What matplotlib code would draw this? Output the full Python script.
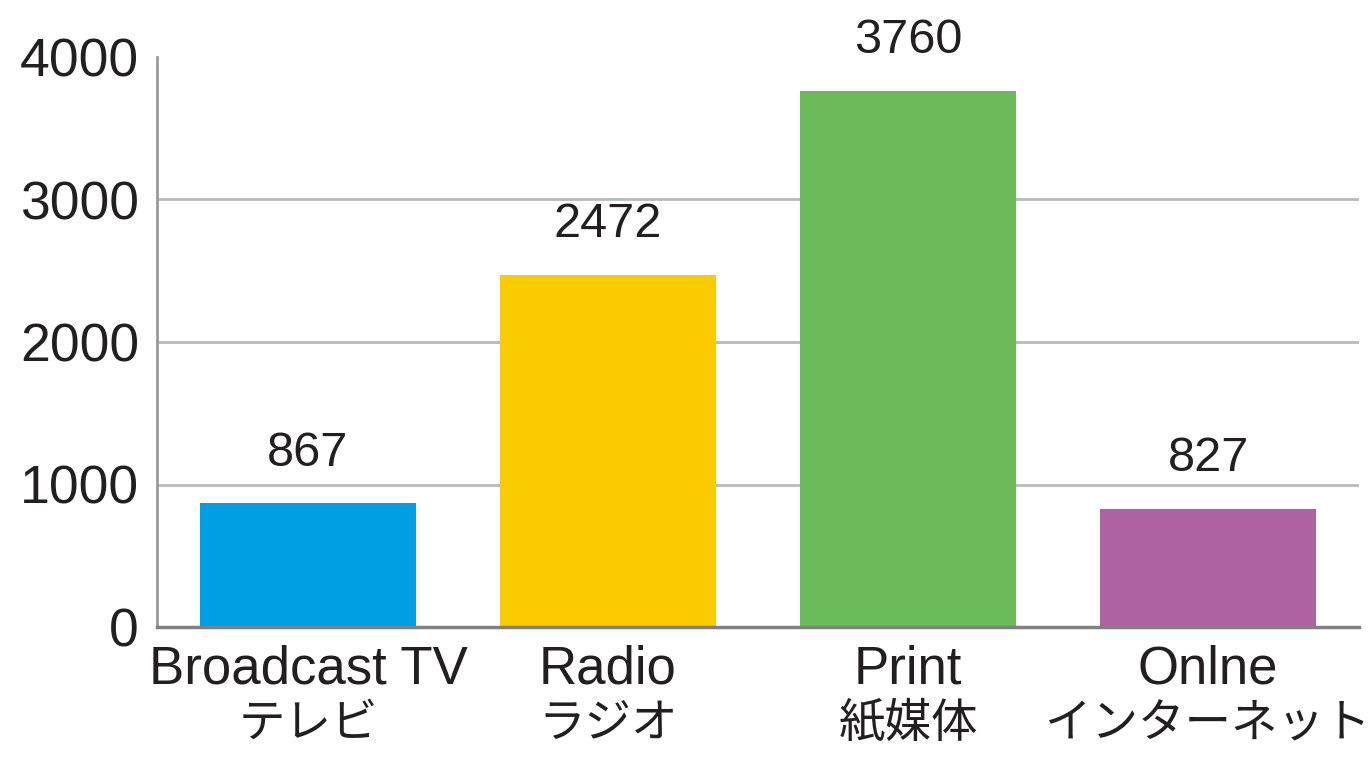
import matplotlib
matplotlib.use("Agg")
import matplotlib.pyplot as plt
from matplotlib.transforms import blended_transform_factory

categories_en = ["Broadcast TV", "Radio", "Print", "Onlne"]
categories_ja = ["テレビ", "ラジオ", "紙媒体", "インターネット"]
values = [867, 2472, 3760, 827]
colors = ["#009fe3", "#f9cb00", "#6cbb5a", "#ad62a2"]
yticks = [0, 1000, 2000, 3000, 4000]

FAM = ["Liberation Sans", "Noto Sans CJK JP", "DejaVu Sans"]
TXT = "#231f20"
plt.rcParams["font.family"] = FAM

fig = plt.figure(figsize=(13.72, 7.6), dpi=100)
ax = fig.add_axes([157 / 1372, 133 / 760, (1359 - 157) / 1372, (627 - 57) / 760])

x = list(range(len(values)))
bars = ax.bar(x, values, width=0.72, color=colors, zorder=3)

ax.set_xlim(-0.503, 3.503)
ax.set_ylim(0, 4000)
ax.set_yticks(yticks)
ax.set_yticklabels([str(t) for t in yticks], fontsize=38.5, color=TXT)
ax.tick_params(axis="y", length=0, pad=13)
ax.set_xticks(x)
ax.set_xticklabels([])
ax.tick_params(axis="x", length=0)

# two-line category labels (English / Japanese)
trans = blended_transform_factory(ax.transData, fig.transFigure)
for xi, en, ja in zip(x, categories_en, categories_ja):
    ax.text(xi, 1 - 670 / 760, en, transform=trans, ha="center", va="center",
            fontsize=38, color=TXT, family=FAM)
    ax.text(xi, 1 - 724 / 760, ja, transform=trans, ha="center", va="center",
            fontsize=33.5, color=TXT, family=["Noto Sans CJK JP", "DejaVu Sans"])

for t in yticks[1:-1]:
    ax.axhline(t, color="#b8bbbb", linewidth=2, zorder=1)

for s in ["top", "right"]:
    ax.spines[s].set_visible(False)
ax.spines["left"].set_color("#9a9a9a")
ax.spines["left"].set_linewidth(2)
ax.spines["bottom"].set_color("#808080")
ax.spines["bottom"].set_linewidth(2.5)
ax.spines["bottom"].set_zorder(4)

for xi, v in zip(x, values):
    ax.annotate(str(v), (xi, v), xytext=(0, 20), textcoords="offset points",
                ha="center", va="bottom", fontsize=35, color=TXT)

fig.savefig("out.png", dpi=100, facecolor="white")
